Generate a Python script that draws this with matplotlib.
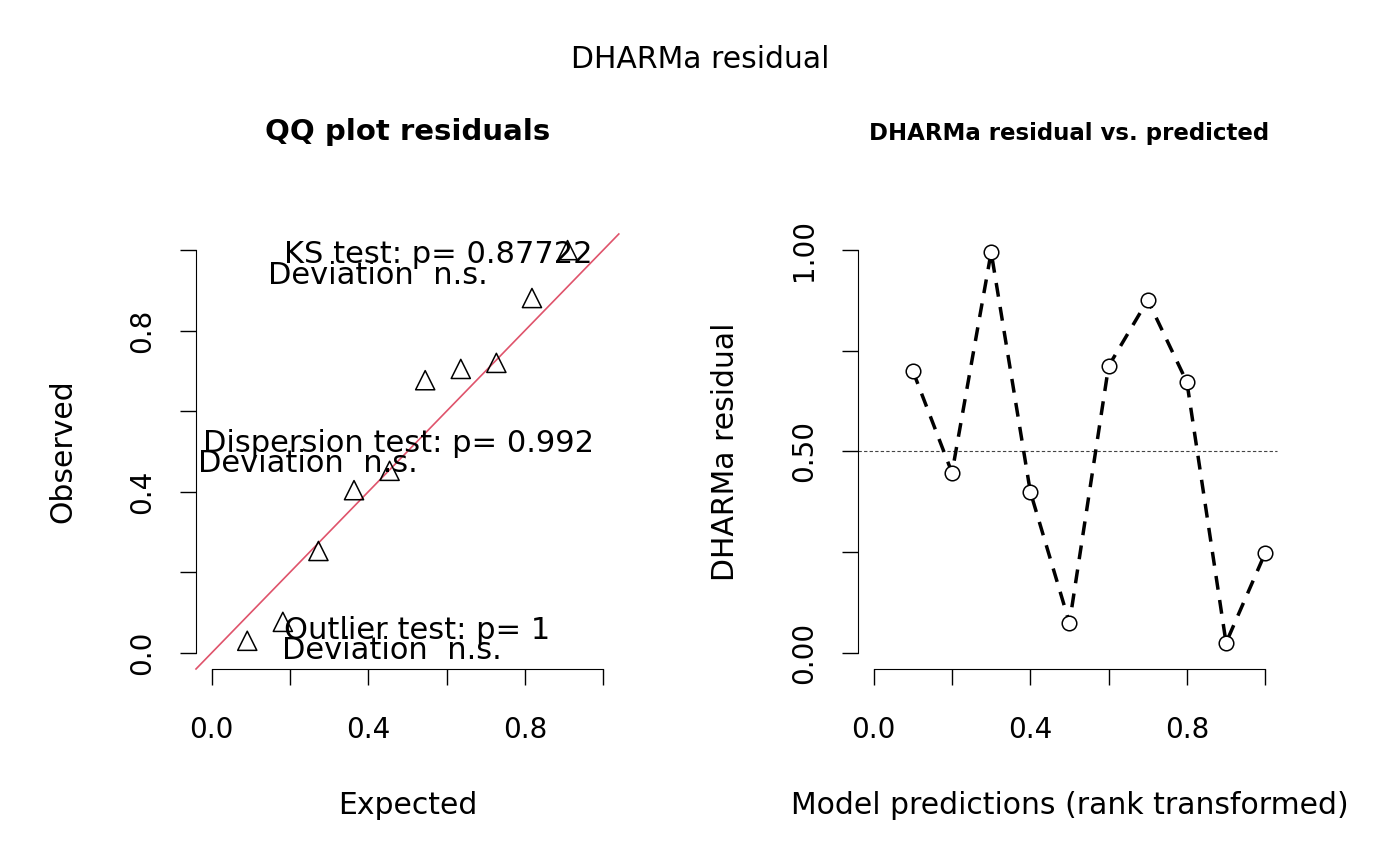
import matplotlib
matplotlib.use("Agg")
import matplotlib.pyplot as plt
import numpy as np

expected = [1/11, 2/11, 3/11, 4/11, 5/11, 6/11, 7/11, 8/11, 9/11, 10/11]
observed = [0.03, 0.077, 0.253, 0.404, 0.452, 0.677, 0.705, 0.72, 0.881, 1.0]
pred_rank = [0.1, 0.2, 0.3, 0.4, 0.5, 0.6, 0.7, 0.8, 0.9, 1.0]
resid = [0.70, 0.447, 0.995, 0.40, 0.074, 0.712, 0.876, 0.672, 0.025, 0.248]

plt.rcParams['font.family'] = ['DejaVu Sans']
fig = plt.figure(figsize=(14, 8.66), dpi=100)
fs = 20
lfs = 21.5

def rstyle(ax, xt, xl, yt, yl):
    for s in ['top', 'right']:
        ax.spines[s].set_visible(False)
    ax.spines['left'].set_bounds(yt[0], yt[-1])
    ax.spines['bottom'].set_bounds(xt[0], xt[-1])
    ax.set_xticks(xt); ax.set_xticklabels(xl)
    ax.set_yticks(yt); ax.set_yticklabels(yl, rotation=90, va='center')
    ax.tick_params(length=11.5, width=1, labelsize=fs)
    ax.tick_params(axis='x', pad=22)
    ax.tick_params(axis='y', pad=17)

ax1 = fig.add_axes([0.14, 0.2275, 0.302, 0.5023])
ax1.set_xlim(-0.04, 1.04); ax1.set_ylim(-0.04, 1.04)
ax1.plot([-0.04, 1.04], [-0.04, 1.04], color='#DF536B', lw=1.2, clip_on=False)
ax1.scatter(expected, observed, marker='^', s=190, facecolors='none', edgecolors='black', lw=1.1, zorder=3, clip_on=False)
t = [0, 0.2, 0.4, 0.6, 0.8, 1.0]
rstyle(ax1, t, ['0.0', '', '0.4', '', '0.8', ''], t, ['0.0', '', '0.4', '', '0.8', ''])
ax1.set_xlabel('Expected', fontsize=lfs)
ax1.set_ylabel('Observed', fontsize=lfs)
ax1.xaxis.set_label_coords(0.5, -0.313)
ax1.yaxis.set_label_coords(-0.314, 0.5)
ax1.xaxis.label.set_va('center'); ax1.yaxis.label.set_va('center')
ax1.set_title('QQ plot residuals', fontsize=21, fontweight='bold', pad=68)
def tx(x, y, s):
    ax1.text(x, y, s, fontsize=22, ha='center', va='center', clip_on=False)
tx(0.578, 0.99, 'KS test: p= 0.87722'); tx(0.424, 0.938, 'Deviation  n.s.')
tx(0.476, 0.521, 'Dispersion test: p= 0.992'); tx(0.246, 0.471, 'Deviation  n.s.')
tx(0.524, 0.055, 'Outlier test: p= 1'); tx(0.46, 0.005, 'Deviation  n.s.')

ax2 = fig.add_axes([0.6129, 0.2275, 0.302, 0.5023])
ax2.set_xlim(-0.04, 1.04); ax2.set_ylim(-0.04, 1.04)
ax2.axhline(0.5, xmin=0, xmax=0.99, color='#444444', ls=(0, (3, 2)), lw=0.8)
ax2.plot(pred_rank, resid, ls=(0, (4, 3)), color='black', lw=2.5)
ax2.scatter(pred_rank, resid, marker='o', s=110, facecolors='white', edgecolors='black', lw=1.1, zorder=3, clip_on=False)
yt2 = [0, 0.25, 0.5, 0.75, 1.0]
rstyle(ax2, t, ['0.0', '', '0.4', '', '0.8', ''], yt2, ['0.00', '', '0.50', '', '1.00'])
ax2.set_xlabel('Model predictions (rank transformed)', fontsize=lfs)
ax2.set_ylabel('DHARMa residual', fontsize=lfs)
ax2.xaxis.set_label_coords(0.5, -0.313)
ax2.yaxis.set_label_coords(-0.314, 0.5)
ax2.xaxis.label.set_va('center'); ax2.yaxis.label.set_va('center')
ax2.set_title('DHARMa residual vs. predicted', fontsize=16.5, fontweight='bold', pad=68)

fig.text(0.5, 1 - 60/866, 'DHARMa residual', fontsize=21.5, ha='center', va='center')
fig.savefig('out.png', dpi=100)
